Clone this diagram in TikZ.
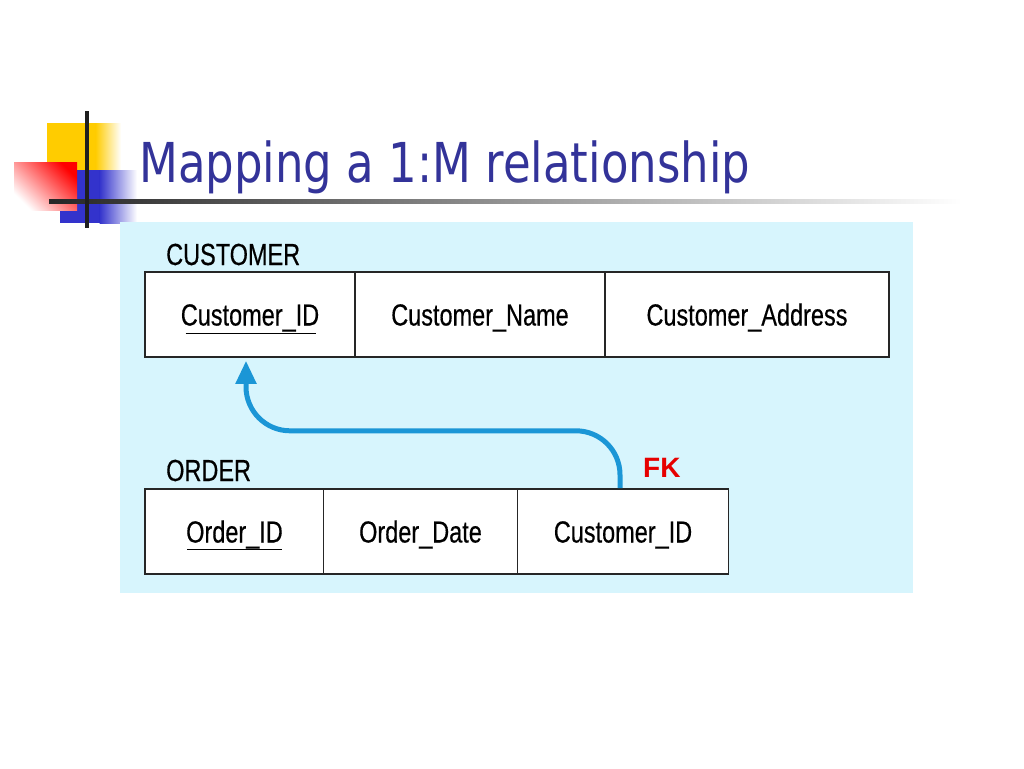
\documentclass[tikz,border=0pt]{standalone}
\usepackage{fontspec}
\setmainfont{Liberation Sans}
\newfontfamily\condfont[FakeStretch=0.77,FakeBold=0.4]{Liberation Sans}
\newfontfamily\titlefont{DejaVu Sans}
\usetikzlibrary{arrows.meta}
\definecolor{titleblue}{RGB}{51,51,153}
\definecolor{panelcyan}{RGB}{215,245,253}
\definecolor{arrowblue}{RGB}{27,150,214}
\definecolor{gold}{RGB}{255,204,0}
\definecolor{decoblue}{RGB}{51,51,204}
\definecolor{fkred}{RGB}{230,0,0}
\tikzset{
  cell/.style={draw=black!85, line width=1.6pt, fill=white, rectangle, minimum height=85pt, inner sep=0pt},
  celltext/.style={font=\condfont\fontsize{30.5}{36}\selectfont, inner sep=0pt, anchor=base},
  tablelabel/.style={font=\condfont\fontsize{30.5}{36}\selectfont, inner sep=0pt, anchor=base west},
  keyline/.style={line width=1.8pt, black},
  fkarrow/.style={line width=5pt, arrowblue, rounded corners=44pt, -{Triangle[length=23pt,width=20pt]}}
}
\begin{document}
\begin{tikzpicture}[x=1pt,y=-1pt]
\useasboundingbox (0,0) rectangle (1024,768);
% decorations
\fill[gold] (47,123) rectangle (96,170);
\shade[left color=gold, right color=white] (95.5,123) rectangle (121,170);
\fill[decoblue] (60,170) rectangle (100,223);
\shade[left color=decoblue, right color=white] (99.5,170) rectangle (137,223);
\shade[top color=red, bottom color=white, shading angle=-45] (14,162) rectangle (77,210);
\shade[left color=black!85, right color=white] (49,199) rectangle (962,203);
\fill[black!88] (85,111) rectangle (89,228);
% title
\node[anchor=base west, inner sep=0pt, text=titleblue] (title) at (139,182)
  {\resizebox{611pt}{\height}{\titlefont\fontsize{55}{60}\selectfont Mapping a 1:M relationship}};
% panel
\fill[panelcyan] (120,222) rectangle (913,593);
% customer table
\node[cell, minimum width=210pt] (c1) at (250,314.5) {};
\node[cell, minimum width=250pt] (c2) at (480,314.5) {};
\node[cell, minimum width=284pt] (c3) at (747,314.5) {};
\node[celltext] (t1) at ([yshift=-11pt]c1.center) {Customer\_ID};
\node[celltext] (t2) at ([yshift=-11pt]c2.center) {Customer\_Name};
\node[celltext] (t3) at ([yshift=-11pt]c3.center) {Customer\_Address};
\draw[keyline] ([xshift=5pt,yshift=-8pt]t1.base west) -- ([xshift=-3pt,yshift=-8pt]t1.base east);
\node[tablelabel] (custlabel) at (166,265) {CUSTOMER};
% order table
\node[cell, minimum width=179pt] (o1) at (234.5,531.5) {};
\node[cell, minimum width=194pt] (o2) at (420.5,531.5) {};
\node[cell, minimum width=211pt] (o3) at (623,531.5) {};
\node[celltext] (u1) at ([yshift=-11pt]o1.center) {Order\_ID};
\node[celltext] (u2) at ([yshift=-11pt]o2.center) {Order\_Date};
\node[celltext] (u3) at ([yshift=-11pt]o3.center) {Customer\_ID};
\draw[keyline] ([xshift=1pt,yshift=-7pt]u1.base west) -- ([xshift=-1pt,yshift=-7pt]u1.base east);
\node[tablelabel] (ordlabel) at (166,481) {ORDER};
\node[anchor=base west, inner sep=0pt, text=fkred, font=\bfseries\fontsize{28}{32}\selectfont] (fk) at (643,477) {FK};
% foreign key arrow
\draw[fkarrow] ([xshift=-3pt]o3.north) |- ([xshift=-4pt,yshift=-73pt]c1.south) -- ([xshift=-4pt,yshift=-3pt]c1.south);
\end{tikzpicture}
\end{document}
